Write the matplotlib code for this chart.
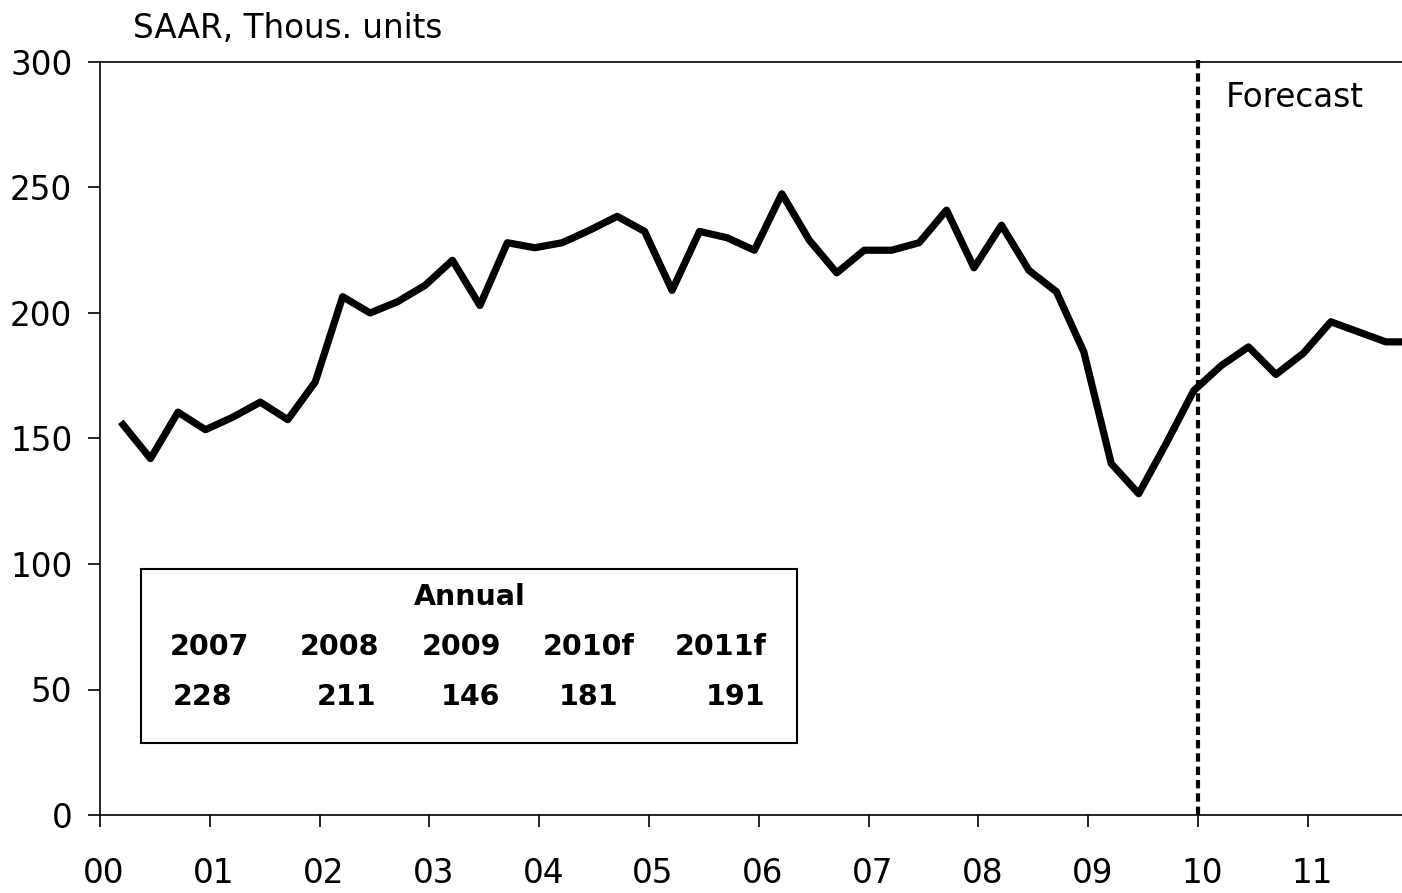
import numpy as np
import matplotlib
matplotlib.use("Agg")
import matplotlib.pyplot as plt
import matplotlib.transforms as mtransforms
from matplotlib.patches import Rectangle

# quarterly series, 2000Q1 - 2011Q4 (SAAR, thous. units)
values = [155.5, 142, 160.5, 153.5, 158.5, 164.5, 157.5, 172.5,
          206.5, 200, 204.5, 211, 221, 203, 228, 226,
          228, 233, 238.5, 232.5, 209, 232.5, 230, 225,
          247.5, 229, 216, 225, 225, 228, 241, 218,
          235, 217, 208.5, 184.5, 140, 128, 148, 169,
          179, 186.5, 175.5, 184, 196.5, 192.5, 188.5, 188.5]
year_labels = ["00", "01", "02", "03", "04", "05", "06", "07", "08", "09", "10", "11"]
annual_years = ["2007", "2008", "2009", "2010f", "2011f"]
annual_values = ["228", "211", "146", "181", "191"]
forecast_start = 10

plt.rcParams["font.family"] = ["DejaVu Sans"]

fig = plt.figure(figsize=(14.02, 8.93), dpi=100)
W, H = 1402, 893
ax = fig.add_axes([100 / W, 78 / H, 1302 / W, 753 / H])

x = 0.21 + 0.25 * np.arange(len(values))
ax.plot(x, values, color="black", lw=5.2, solid_joinstyle="round", clip_on=False)

ax.plot([forecast_start, forecast_start], [0, 302], color="black", lw=3.0,
        linestyle=(0, (2, 1.2)), dash_capstyle="butt", clip_on=False)
ax.text(10.25, 286, "Forecast", fontsize=23.5, va="center", ha="left")

ax.set_xlim(0, 1302 / 109.8)
ax.set_ylim(0, 300)
ax.set_yticks(range(0, 301, 50))
ax.set_xticks(range(len(year_labels)))
ax.set_xticklabels(year_labels)
ax.tick_params(axis="both", labelsize=23.5, width=1.2, length=8.4, direction="out")
ax.tick_params(axis="y", pad=11.5)
ax.tick_params(axis="x", pad=22)
shift = mtransforms.ScaledTranslation(4 / 100, 0, fig.dpi_scale_trans)
for lab in ax.get_xticklabels():
    lab.set_transform(lab.get_transform() + shift)
for s in ["left", "bottom", "top"]:
    ax.spines[s].set_linewidth(1.2)
ax.spines["right"].set_visible(False)

# annual table box
ax.add_patch(Rectangle((0.37, 28.7), 5.98, 69.3, fill=False, lw=1.5, ec="black", zorder=3))
ax.text(3.37, 87, "Annual", fontsize=20.5, fontweight="bold", ha="center", va="center")
col_x = [1.0, 2.18, 3.29, 4.45, 5.65]
val_x = [0.93, 2.25, 3.37, 4.45, 5.79]
for cx, yr in zip(col_x, annual_years):
    ax.text(cx, 67, yr, fontsize=20.5, fontweight="bold", ha="center", va="center")
for vx, v in zip(val_x, annual_values):
    ax.text(vx, 47, v, fontsize=20.5, fontweight="bold", ha="center", va="center")

fig.text(133 / W, 1 - 28 / H, "SAAR, Thous. units", fontsize=23.5, ha="left", va="center")

fig.savefig("out.png", dpi=100)
